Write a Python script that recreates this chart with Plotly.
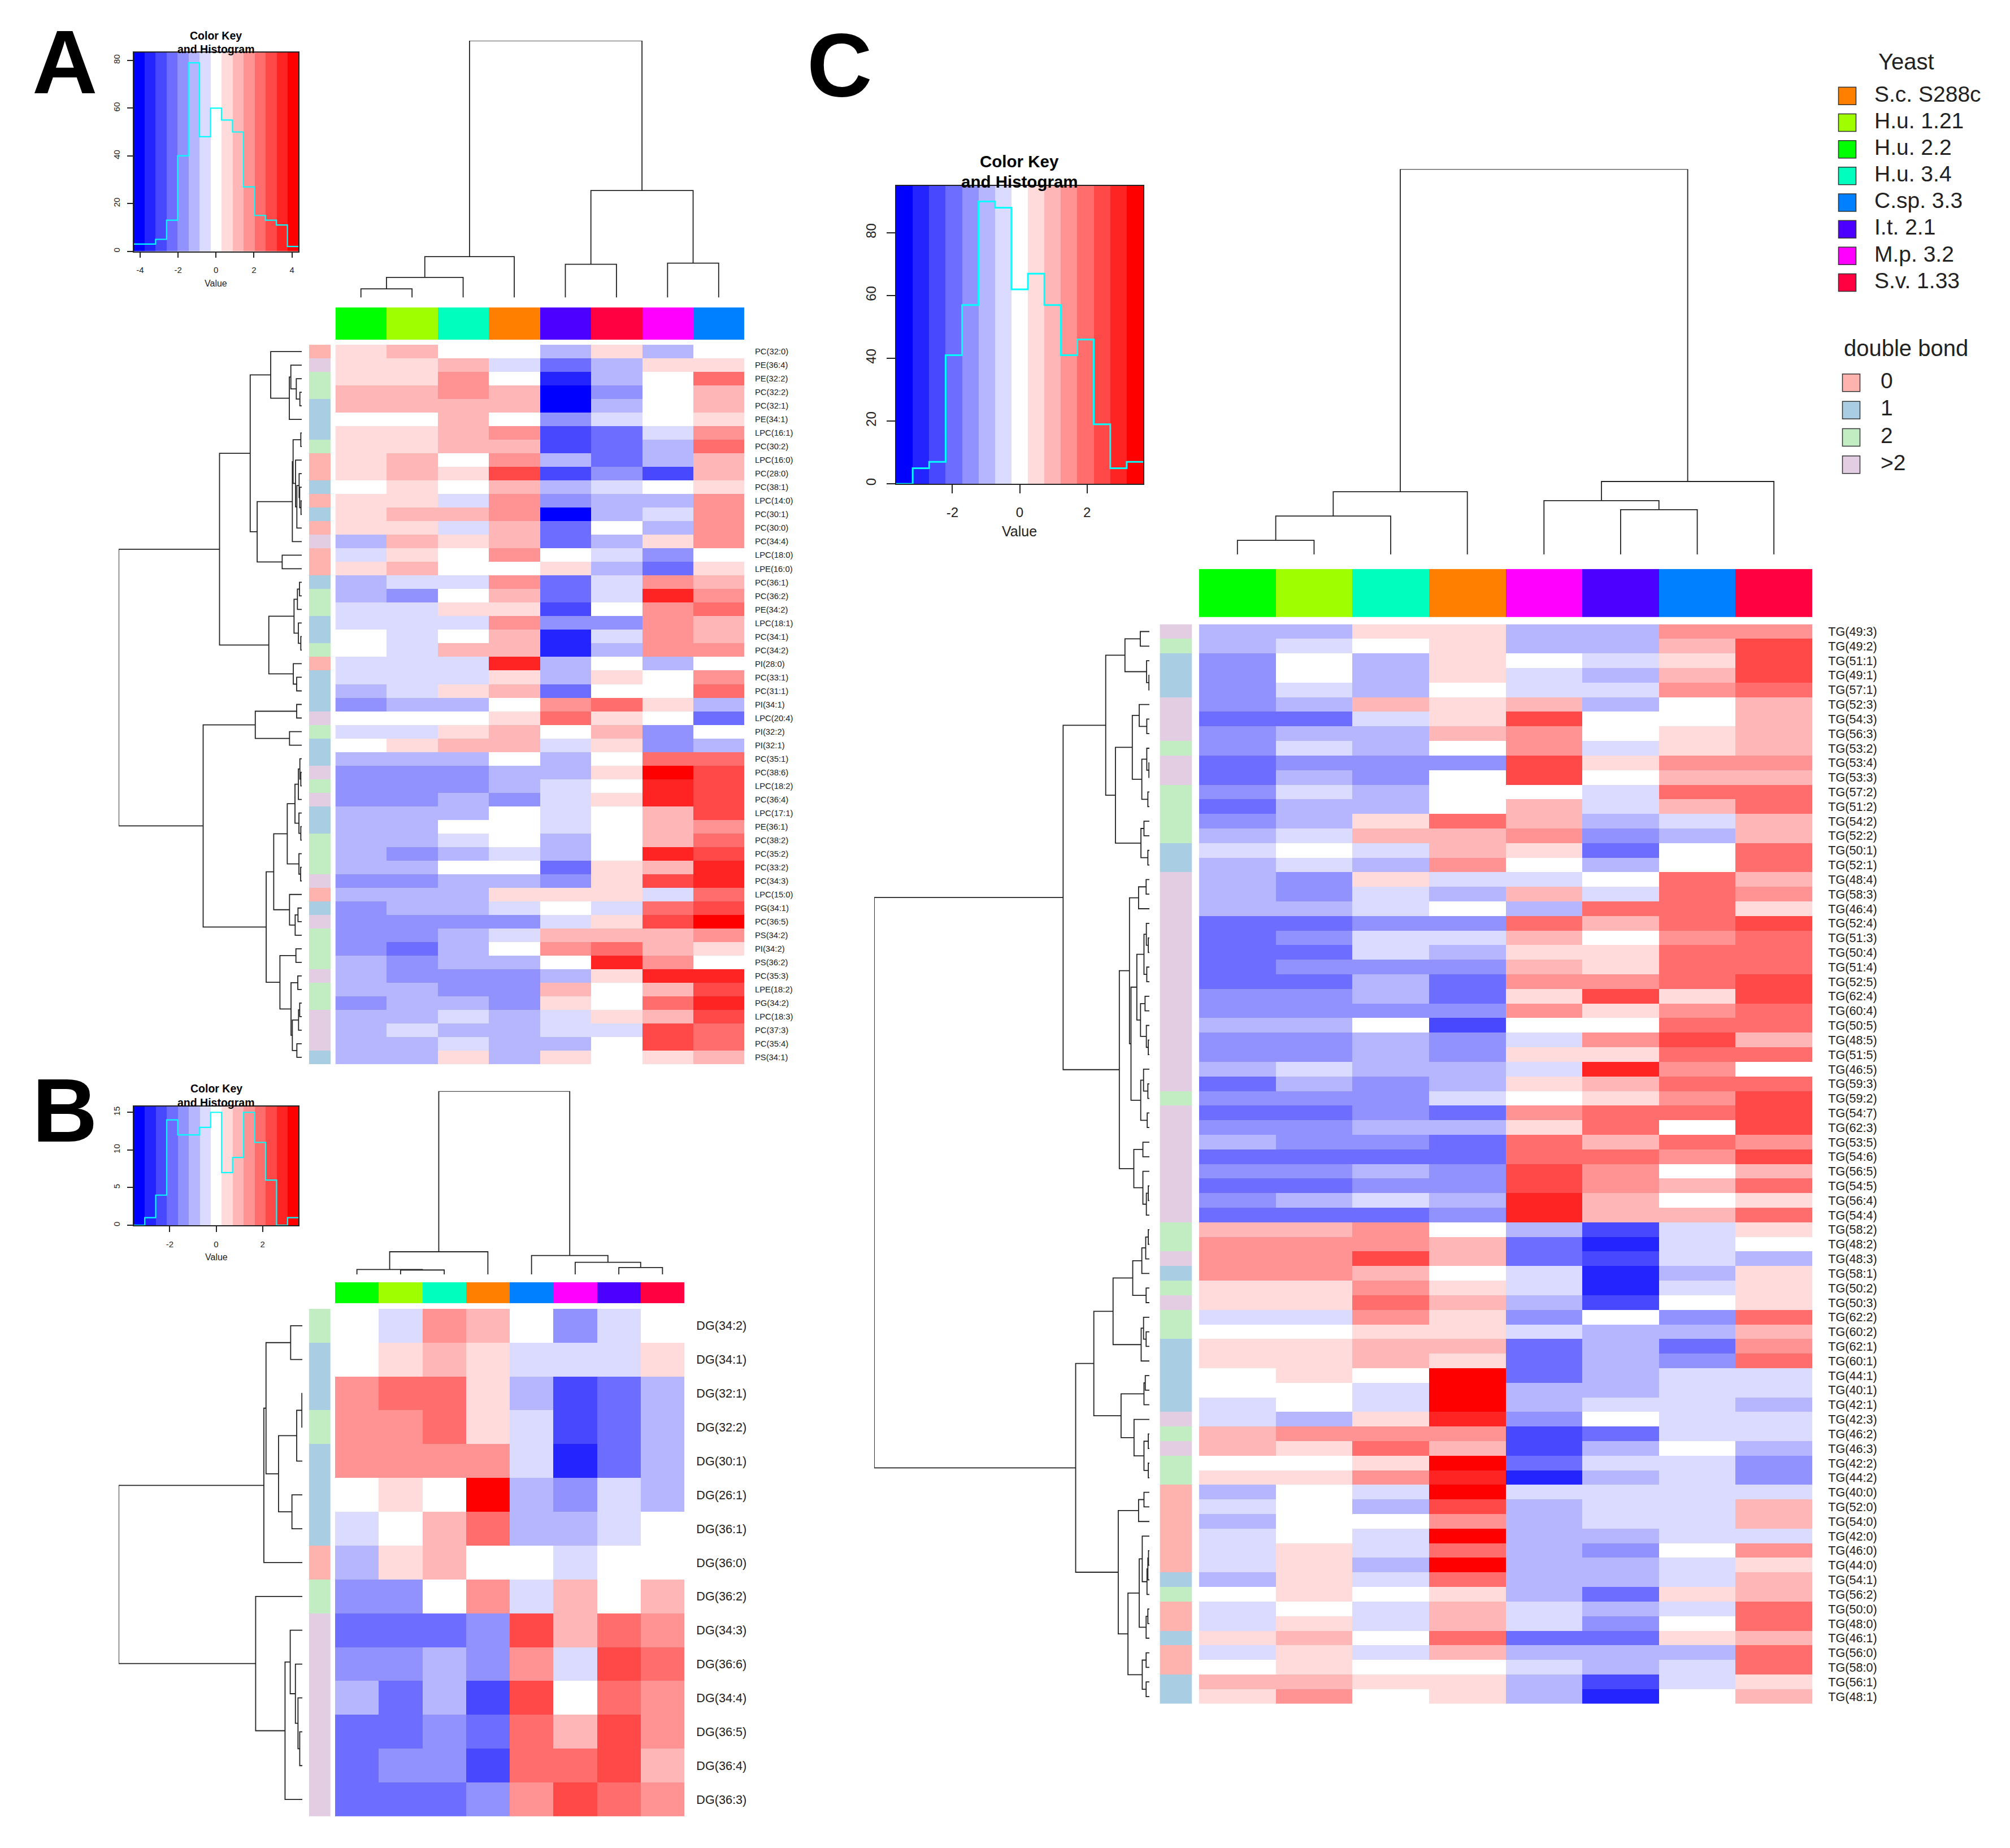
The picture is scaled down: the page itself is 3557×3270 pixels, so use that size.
import plotly.graph_objects as go

W, H = 3557, 3270
FONT = "Liberation Sans"
INK = "#222222"

LEVEL_COLORS = ["#0000FF", "#2424FF", "#4848FF", "#6D6DFF", "#9292FF", "#B6B6FF", "#DBDBFF", "#FFFFFF",
                "#FFDBDB", "#FFB6B6", "#FF9292", "#FF6D6D", "#FF4848", "#FF2424", "#FF0000"]

YEAST = ["S.c. S288c", "H.u. 1.21", "H.u. 2.2", "H.u. 3.4", "C.sp. 3.3", "I.t. 2.1", "M.p. 3.2", "S.v. 1.33"]
YEAST_COLORS = ["#FF8000", "#9FFF00", "#00FF00", "#00FFBF", "#0080FF", "#4C00FF", "#FF00FF", "#FF0040"]
BOND_NAMES = ["0", "1", "2", ">2"]
BOND_COLORS = ["#FEB3AE", "#A9CEE4", "#C2EDC3", "#E3CDE3"]

A_cols = ["H.u. 2.2", "H.u. 1.21", "H.u. 3.4", "S.c. S288c", "I.t. 2.1", "S.v. 1.33", "M.p. 3.2", "C.sp. 3.3"]
B_cols = ["H.u. 2.2", "H.u. 1.21", "H.u. 3.4", "S.c. S288c", "C.sp. 3.3", "M.p. 3.2", "I.t. 2.1", "S.v. 1.33"]
C_cols = ["H.u. 2.2", "H.u. 1.21", "H.u. 3.4", "S.c. S288c", "M.p. 3.2", "I.t. 2.1", "C.sp. 3.3", "S.v. 1.33"]

A_labels = ["PC(32:0)", "PE(36:4)", "PE(32:2)", "PC(32:2)", "PC(32:1)", "PE(34:1)", "LPC(16:1)", "PC(30:2)",
            "LPC(16:0)", "PC(28:0)", "PC(38:1)", "LPC(14:0)", "PC(30:1)", "PC(30:0)", "PC(34:4)", "LPC(18:0)",
            "LPE(16:0)", "PC(36:1)", "PC(36:2)", "PE(34:2)", "LPC(18:1)", "PC(34:1)", "PC(34:2)", "PI(28:0)",
            "PC(33:1)", "PC(31:1)", "PI(34:1)", "LPC(20:4)", "PI(32:2)", "PI(32:1)", "PC(35:1)", "PC(38:6)",
            "LPC(18:2)", "PC(36:4)", "LPC(17:1)", "PE(36:1)", "PC(38:2)", "PC(35:2)", "PC(33:2)", "PC(34:3)",
            "LPC(15:0)", "PG(34:1)", "PC(36:5)", "PS(34:2)", "PI(34:2)", "PS(36:2)", "PC(35:3)", "LPE(18:2)",
            "PG(34:2)", "LPC(18:3)", "PC(37:3)", "PC(35:4)", "PS(34:1)"]
A_values = [
    [1, 2, 0, 0, -2, 1, -2, 0], [1, 1, 2, -1, -4, -2, 1, 1], [1, 1, 3, 0, -6, -2, 0, 4], [2, 2, 3, 2, -7, -3, 0, 2],
    [2, 2, 2, 2, -7, -2, 0, 2], [0, 0, 2, 0, -3, -1, 0, 1], [1, 1, 2, 3, -5, -4, -1, 3], [1, 1, 2, 2, -5, -4, -2, 4],
    [1, 2, 0, 3, -2, -4, -2, 2], [1, 2, 1, 5, -5, -3, -5, 2], [0, 1, 0, 2, -2, -1, 0, 1], [1, 1, -1, 3, -3, -2, -2, 3],
    [1, 2, 2, 3, -7, -2, -1, 3], [1, 1, -1, 2, -4, 0, -2, 3], [-2, 2, 1, 2, -4, -2, 1, 3], [-1, 1, 0, 3, 0, -1, -3, 0],
    [1, 2, 0, 0, 1, -2, -4, 1], [-2, -1, -1, 3, -4, -1, 3, 2], [-2, -3, 0, 2, -4, -1, 6, 3], [-1, -1, 1, 1, -5, 0, 3, 4],
    [-1, -1, -1, 3, -3, -3, 3, 2], [0, -1, 0, 2, -6, -1, 3, 2], [0, -1, 2, 2, -6, -2, 3, 3], [-1, -1, -1, 6, -2, 0, -2, 0],
    [-1, -1, -1, 1, -2, 1, 0, 3], [-2, -1, 1, 2, -4, 0, 0, 4], [-3, -2, -2, 0, 3, 4, 1, -2], [0, 0, 0, 1, 4, 1, 0, -4],
    [-1, -1, 1, 2, 0, 2, -3, 0], [0, 1, 2, 2, -1, 1, -3, -2], [-2, -2, -2, 0, -2, 0, 4, 4], [-3, -3, -3, -2, -2, 1, 7, 5],
    [-3, -3, -3, -2, -1, 0, 6, 5], [-3, -3, -2, -3, -1, 1, 6, 5], [-2, -2, -2, 0, -1, 0, 2, 5], [-2, -2, 0, 0, -1, 0, 2, 3],
    [-2, -2, -1, 0, -2, 0, 2, 4], [-2, -3, -2, -1, -2, 0, 6, 5], [-2, -2, 0, 0, -4, 1, 2, 6], [-3, -3, -2, -2, -3, 1, 5, 6],
    [-2, -2, -2, 1, 1, 1, -1, 4], [-3, -2, -2, -1, 0, -1, 4, 5], [-3, -3, -3, -3, -1, 1, 5, 7], [-3, -3, -2, -1, 2, 2, 2, 3],
    [-3, -4, -2, 0, 3, 4, 2, 1], [-2, -3, -2, -2, 0, 6, 3, 0], [-2, -3, -3, -3, -2, 1, 6, 6], [-2, -2, -3, -3, 2, 0, 2, 5],
    [-3, -2, -2, -3, 1, 0, 4, 6], [-2, -2, -1, -2, -1, 1, 2, 5], [-2, -1, -2, -2, -1, -1, 5, 4], [-2, -2, -1, -2, -2, 0, 5, 4],
    [-2, -2, 1, -2, 1, 0, 1, 2],
]

B_labels = ["DG(34:2)", "DG(34:1)", "DG(32:1)", "DG(32:2)", "DG(30:1)", "DG(26:1)", "DG(36:1)", "DG(36:0)",
            "DG(36:2)", "DG(34:3)", "DG(36:6)", "DG(34:4)", "DG(36:5)", "DG(36:4)", "DG(36:3)"]
B_values = [
    [0, -1, 3, 2, 0, -3, -1, 0], [0, 1, 2, 1, -1, -1, -1, 1], [3, 4, 4, 1, -2, -5, -4, -2], [3, 3, 4, 1, -1, -5, -4, -2],
    [3, 3, 3, 3, -1, -6, -4, -2], [0, 1, 0, 7, -2, -3, -1, -2], [-1, 0, 2, 4, -2, -2, -1, 0], [-2, 1, 2, 0, 0, -1, 0, 0],
    [-3, -3, 0, 3, -1, 2, 0, 2], [-4, -4, -4, -3, 5, 2, 4, 3], [-3, -3, -2, -3, 3, -1, 5, 4], [-2, -4, -2, -5, 5, 0, 4, 3],
    [-4, -4, -3, -4, 4, 2, 5, 3], [-4, -3, -3, -5, 4, 4, 5, 2], [-4, -4, -4, -3, 3, 5, 4, 3],
]

C_labels = ["TG(49:3)", "TG(49:2)", "TG(51:1)", "TG(49:1)", "TG(57:1)", "TG(52:3)", "TG(54:3)", "TG(56:3)", "TG(53:2)",
            "TG(53:4)", "TG(53:3)", "TG(57:2)", "TG(51:2)", "TG(54:2)", "TG(52:2)", "TG(50:1)", "TG(52:1)", "TG(48:4)",
            "TG(58:3)", "TG(46:4)", "TG(52:4)", "TG(51:3)", "TG(50:4)", "TG(51:4)", "TG(52:5)", "TG(62:4)", "TG(60:4)",
            "TG(50:5)", "TG(48:5)", "TG(51:5)", "TG(46:5)", "TG(59:3)", "TG(59:2)", "TG(54:7)", "TG(62:3)", "TG(53:5)",
            "TG(54:6)", "TG(56:5)", "TG(54:5)", "TG(56:4)", "TG(54:4)", "TG(58:2)", "TG(48:2)", "TG(48:3)", "TG(58:1)",
            "TG(50:2)", "TG(50:3)", "TG(62:2)", "TG(60:2)", "TG(62:1)", "TG(60:1)", "TG(44:1)", "TG(40:1)", "TG(42:1)",
            "TG(42:3)", "TG(46:2)", "TG(46:3)", "TG(42:2)", "TG(44:2)", "TG(40:0)", "TG(52:0)", "TG(54:0)", "TG(42:0)",
            "TG(46:0)", "TG(44:0)", "TG(54:1)", "TG(56:2)", "TG(50:0)", "TG(48:0)", "TG(46:1)", "TG(56:0)", "TG(58:0)",
            "TG(56:1)", "TG(48:1)"]
C_values = [
    [-2, -2, 1, 1, -2, -2, 3, 3], [-2, -1, 0, 1, -2, -2, 2, 5], [-3, 0, -2, 1, 0, -1, 1, 5], [-3, 0, -2, 1, -1, -2, 2, 5],
    [-3, -1, -2, 0, -1, -1, 3, 4], [-3, -2, 2, 1, 2, -2, 0, 2], [-4, -4, -1, 1, 5, 0, 0, 2], [-3, -2, -2, 2, 3, 0, 1, 2],
    [-3, -1, -2, 0, 3, -1, 1, 2], [-4, -3, -3, -3, 5, 1, 3, 3], [-4, -2, -3, 0, 5, 0, 2, 2], [-3, -1, -2, 0, 0, -1, 4, 4],
    [-4, -2, -2, 0, 2, -1, 2, 4], [-3, -2, 1, 4, 2, -2, -1, 2], [-2, -1, 2, 2, 3, -3, -2, 2], [-1, 0, -1, 2, 1, -4, 0, 4],
    [-2, -1, -2, 3, 0, -2, 0, 4], [-2, -3, 1, -1, -1, 0, 4, 2], [-2, -3, -1, -2, 2, -1, 4, 3], [-2, -2, -1, 0, -2, 4, 4, 1],
    [-4, -4, -3, -3, 4, 2, 4, 5], [-4, -3, -1, -1, 2, 0, 3, 4], [-4, -4, -1, -2, 1, 1, 4, 4], [-4, -3, -3, -3, 2, 1, 4, 4],
    [-4, -4, -2, -4, 3, 3, 4, 5], [-3, -3, -2, -4, 1, 5, 1, 5], [-3, -3, -3, -3, 3, 1, 3, 4], [-2, -2, 0, -5, 0, 0, 4, 4],
    [-3, -3, -2, -3, -1, 3, 5, 2], [-3, -3, -2, -3, 1, 1, 4, 4], [-2, -1, -2, -2, -1, 6, 3, 0], [-4, -2, -3, -2, 1, 2, 4, 4],
    [-3, -3, -3, -1, 0, 1, 3, 5], [-4, -4, -3, -4, 3, 4, 4, 5], [-3, -3, -2, -2, 1, 4, 0, 5], [-2, -3, -3, -4, 4, 2, 4, 3],
    [-4, -4, -4, -4, 4, 4, 3, 5], [-3, -3, -2, -3, 5, 3, 0, 2], [-4, -4, -3, -3, 5, 3, 2, 4], [-3, -2, -1, -2, 6, 2, 0, 1],
    [-4, -4, -4, -3, 6, 2, 2, 4], [2, 2, 3, 0, -2, -5, -1, 1], [3, 3, 3, 2, -4, -6, -1, 0], [3, 3, 5, 2, -4, -5, -1, -2],
    [3, 3, 2, 0, -1, -6, -2, 1], [1, 1, 3, 1, -1, -6, -1, 1], [1, 1, 4, 2, -2, -5, 0, 1], [-1, -1, 3, 1, -3, 0, -3, 4],
    [0, 0, 1, 1, -1, -2, -2, 2], [1, 1, 2, 2, -4, -2, -4, 3], [1, 1, 2, 1, -4, -2, -3, 4], [0, 1, 0, 7, -4, -2, -1, -1],
    [0, 0, -1, 7, -2, -2, -1, -1], [-1, 0, -1, 7, -2, -1, -1, -2], [-1, -2, 1, 6, -3, 0, -1, -1], [2, 3, 3, 3, -5, -4, -1, -1],
    [2, 1, 4, 2, -5, -2, 0, -2], [0, 0, 1, 7, -4, -1, -1, -3], [1, 1, 3, 6, -6, -2, -1, -3], [-2, 0, -1, 7, -1, -1, -1, -1],
    [-1, 0, -2, 5, -2, -1, -1, 2], [-2, 0, 0, 3, -2, -1, -1, 2], [-1, 0, -1, 7, -2, -2, -1, -1], [-1, 1, -1, 4, -2, -3, 0, 3],
    [-1, 1, -2, 7, -2, -2, -1, 1], [-2, 1, -1, 4, -2, -2, -1, 2], [0, 1, 0, 1, -2, -4, 1, 2], [-1, 0, -1, 2, -1, -2, -1, 4],
    [-1, 1, -1, 2, -1, -3, 0, 4], [1, 2, 0, 4, -4, -4, 1, 2], [-1, 1, -1, 2, -2, -2, -2, 4], [0, 1, 0, 0, -1, -2, -1, 4],
    [2, 2, 1, 1, -2, -5, -1, 1], [1, 3, 0, 1, -2, -6, 0, 2],
]

# Clustering trees: [height, left, right]; a bare integer is a leaf (row/column index).
A_col_tree = [455, [72.5, [35.7, [15.4, 0, 1], 2], 3], [189.6, [58.9, 4, 5], [61, 6, 7]]]
B_col_tree = [324.7, [40, [8.5, 0, [7.7, 1, 2]], 3], [33.3, 4, [21.4, 5, [12, 6, 7]]]]
C_col_tree = [301, [49, [30, [11, 0, 1], 2], 3], [57, [42, 4, [35, 5, 6]], 7]]

A_row_tree = [973,
    [437,
        [274,
            [165, 0, [66, [58, 1, [29, 2, [10, 3, 4]]], 5]],
            [237, [50, [46, [5, 6, 7], [33, 8, [26, [14, 9, [11, 10, [4, 11, 12]]], 13]]], 14], [104, 15, 16]]],
        [175,
            [41, [23, [12, 17, 18], 19], [18, 20, [5, 21, 22]]],
            [45, 23, [27, 24, 25]]]],
    [524,
        [247, [27, 26, 27], [65, 28, 29]],
        [189,
            [149,
                [77, [36, [18, [10, 30, [5, 31, 32]], 33], [15, 34, [5, 35, 36]]], [15, 37, [6, 38, 39]]],
                [65, 40, [35, [20, 41, 42], 43]]],
            [116, [31, 44, 45], [57, [21, 46, 47], [50, [17, [11, 48, 49], 50], [26, 51, 52]]]]]]]

B_row_tree = [425,
    [89, [84, [27, 0, 1], [55, [13, [1, 2, 3], 4], [24, 5, 6]]], 7],
    [108, 8, [40, [28, 9, [16, 10, [10, 11, [6, 12, 13]]]], 14]]]

C_row_tree = [1273,
    [399,
        [202,
            [113, [42, 0, 1], [13, 2, [2, 3, 4]]],
            [157,
                [79, [47, 5, [12, 6, 7]], [35, [12, 8, [2, 9, 10]], [7, 11, 12]]],
                [39, [25, 13, 14], [7, 15, 16]]]],
        [139,
            [92,
                [50, [15, 17, 18], 19],
                [85,
                    [58, [25, [14, 20, [5, 21, 22]], [12, 23, 24]], [41, [20, 25, 26], [14, 27, [5, 28, 29]]]],
                    [40, [27, 30, [7, 31, 32]], [10, 33, 34]]]],
            [72, [30, 35, 36], [30, 37, [14, [5, 38, 39], 40]]]]],
    [341,
        [257,
            [168,
                [77, [35, [17, [5, 41, 42], 43], 44], [15, 45, 46]],
                [38, [27, 47, [15, 48, 49]], 50]],
            [131,
                [25, [19, 51, 52], 53],
                [71, 54, [25, [5, 55, 56], [5, 57, 58]]]]],
        [144,
            [50, [25, 59, 60], 61],
            [99,
                [47, [33, 62, [11, [7, [4, 63, 64], 65], 66]], [15, [7, 67, 68], 69]],
                [33, [15, 70, 71], [15, 72, 73]]]]]]

# Colour-key histograms: counts in the 15 key bins, with the key's value limit and top of the count axis.
A_hist = [3, 3, 5, 13, 40, 79, 48, 60, 55, 50, 27, 15, 13, 11, 2]
B_hist = [0, 1, 4, 14, 12, 12, 13, 15, 7, 9, 15, 11, 6, 0, 1]
C_hist = [0, 5, 7, 41, 57, 90, 88, 62, 67, 57, 41, 46, 19, 5, 7]
A_key_limit, A_key_top = 4.34, 83.3
B_key_limit, B_key_top = 3.55, 15.77
C_key_limit, C_key_top = 3.67, 95


def discrete_scale(colors):
    n = len(colors)
    out = []
    for i, c in enumerate(colors):
        out += [[i / n, c], [(i + 1) / n, c]]
    return out


def bond_class(label):
    return min(int(label.split(":")[1].rstrip(")")), 3)


fig = go.Figure()
layout = {}
annotations = []
axis_count = 0


def new_axes(x0, x1, y0, y1, xopts=None, yopts=None):
    """Create an axis pair occupying the given pixel box of the page."""
    global axis_count
    axis_count += 1
    suffix = "" if axis_count == 1 else str(axis_count)
    base = dict(showgrid=False, zeroline=False, showticklabels=False, ticks="", showline=False)
    xa = dict(base, domain=[x0 / W, x1 / W], anchor="y" + suffix)
    ya = dict(base, domain=[1 - y1 / H, 1 - y0 / H], anchor="x" + suffix)
    xa.update(xopts or {})
    ya.update(yopts or {})
    layout["xaxis" + suffix] = xa
    layout["yaxis" + suffix] = ya
    return "x" + suffix, "y" + suffix


def note(text, x, y, size, color="black"):
    annotations.append(dict(text=text, x=x / W, y=1 - y / H, xref="paper", yref="paper", showarrow=False,
                            xanchor="center", yanchor="middle",
                            font=dict(family=FONT, size=size, color=color)))


def tree_lines(node, along, across):
    """Return (position, height) of a node and append its bracket to the line lists."""
    if isinstance(node, int):
        return node, 0
    h, left, right = node
    p1, h1 = tree_lines(left, along, across)
    p2, h2 = tree_lines(right, along, across)
    along += [p1, p1, p2, p2, None]
    across += [h1, h, h, h2, None]
    return (p1 + p2) / 2, h


def add_key(box, hist, limit, top, ticks, yticks, tick_size, ticklen, lw, title_size, title_y, value_y):
    x0, x1, y0, y1 = box
    n = len(hist)
    edges = [-limit + 2 * limit * i / n for i in range(n + 1)]
    font = dict(family=FONT, size=tick_size, color=INK)
    xa, ya = new_axes(x0, x1, y0, y1,
                      dict(range=[-limit, limit], ticks="outside", ticklen=ticklen, tickcolor=INK, tickwidth=1.5,
                           tickmode="array", tickvals=ticks, ticktext=[str(t) for t in ticks], showticklabels=True,
                           tickfont=font, showline=True, linecolor=INK, linewidth=1.5, mirror=True,
                           ticklabelstandoff=int(ticklen * 0.9)),
                      dict(range=[0, top], ticks="outside", ticklen=ticklen, tickcolor=INK, tickwidth=1.5,
                           tickmode="array", tickvals=yticks, ticktext=[str(t) for t in yticks], showticklabels=True,
                           tickfont=font, tickangle=-90, showline=True, linecolor=INK, linewidth=1.5, mirror=True,
                           ticklabelstandoff=int(ticklen * 0.7)))
    fig.add_trace(go.Heatmap(x=edges, y=[0, top], z=[list(range(-7, 8))], zmin=-7.5, zmax=7.5,
                             colorscale=discrete_scale(LEVEL_COLORS), showscale=False, hoverinfo="skip",
                             xaxis=xa, yaxis=ya))
    fig.add_trace(go.Scatter(x=edges, y=hist + [hist[-1]], mode="lines", line=dict(color="#00FFFF", width=lw, shape="hv"),
                             hoverinfo="skip", xaxis=xa, yaxis=ya))
    mid = (x0 + x1) / 2
    note("<b>Color Key</b>", mid, title_y[0], title_size)
    note("<b>and Histogram</b>", mid, title_y[1], title_size)
    note("Value", mid, value_y, tick_size + 1, INK)


def add_panel(labels, values, cols, col_tree, row_tree, heat, side, colbar, col_dendro, row_dendro, label_size, label_gap):
    hx0, hx1, hy0, hy1 = heat
    n, m = len(labels), len(cols)
    xr = [-0.5, m - 0.5]
    yr = [n - 0.5, -0.5]
    # main matrix, with the lipid names as tick labels on the right
    xa, ya = new_axes(hx0, hx1, hy0, hy1, dict(range=xr),
                      dict(range=yr, side="right", tickmode="array", tickvals=list(range(n)), ticktext=labels,
                           showticklabels=True, ticks="outside", ticklen=label_gap, tickcolor="rgba(0,0,0,0)",
                           tickfont=dict(family=FONT, size=label_size, color=INK)))
    fig.add_trace(go.Heatmap(z=values, zmin=-7.5, zmax=7.5, colorscale=discrete_scale(LEVEL_COLORS), showscale=False,
                             hoverinfo="skip", xaxis=xa, yaxis=ya))
    # column colour bar
    xa, ya = new_axes(hx0, hx1, colbar[0], colbar[1], dict(range=xr), dict(range=[-0.5, 0.5]))
    fig.add_trace(go.Heatmap(z=[[YEAST.index(c) for c in cols]], zmin=-0.5, zmax=len(YEAST) - 0.5,
                             colorscale=discrete_scale(YEAST_COLORS), showscale=False, hoverinfo="skip",
                             xaxis=xa, yaxis=ya))
    # row side colours (double-bond class read from the lipid name)
    xa, ya = new_axes(side[0], side[1], hy0, hy1, dict(range=[-0.5, 0.5]), dict(range=yr))
    fig.add_trace(go.Heatmap(z=[[bond_class(l)] for l in labels], zmin=-0.5, zmax=3.5,
                             colorscale=discrete_scale(BOND_COLORS), showscale=False, hoverinfo="skip",
                             xaxis=xa, yaxis=ya))
    # column dendrogram
    xa, ya = new_axes(hx0, hx1, col_dendro[0], col_dendro[1], dict(range=xr), dict(range=[0, col_tree[0]]))
    along, across = [], []
    tree_lines(col_tree, along, across)
    fig.add_trace(go.Scatter(x=along, y=across, mode="lines", line=dict(color=INK, width=1.8), hoverinfo="skip",
                             cliponaxis=False, xaxis=xa, yaxis=ya))
    # row dendrogram
    xa, ya = new_axes(row_dendro[0], row_dendro[1], hy0, hy1, dict(range=[row_tree[0], 0]), dict(range=yr))
    along, across = [], []
    tree_lines(row_tree, along, across)
    fig.add_trace(go.Scatter(x=across, y=along, mode="lines", line=dict(color=INK, width=1.8), hoverinfo="skip",
                             cliponaxis=False, xaxis=xa, yaxis=ya))


add_panel(A_labels, A_values, A_cols, A_col_tree, A_row_tree,
          heat=(593.5, 1317, 610.6, 1884.7), side=(547, 585), colbar=(544.6, 602), col_dendro=(72, 527),
          row_dendro=(210, 534), label_size=14.8, label_gap=15)
add_panel(B_labels, B_values, B_cols, B_col_tree, B_row_tree,
          heat=(593, 1211, 2318, 3217), side=(546.7, 585), colbar=(2271, 2308.5), col_dendro=(1932.5, 2257),
          row_dendro=(210, 535), label_size=21.6, label_gap=16)
add_panel(C_labels, C_values, C_cols, C_col_tree, C_row_tree,
          heat=(2122, 3207, 1105.6, 3017.7), side=(2052.4, 2109.6), colbar=(1007.7, 1093), col_dendro=(299.5, 982),
          row_dendro=(1547, 2034), label_size=21.6, label_gap=23)

add_key((236.5, 528, 93, 445), A_hist, A_key_limit, A_key_top, [-4, -2, 0, 2, 4], [0, 20, 40, 60, 80],
        15, 10, 2.2, 19.5, (63, 87.5), 502)
add_key((236.7, 528.3, 1959.8, 2170), B_hist, B_key_limit, B_key_top, [-2, 0, 2], [0, 5, 10, 15],
        15, 10, 2.2, 19.5, (1928, 1953), 2227)
add_key((1586, 2023, 329, 857), C_hist, C_key_limit, C_key_top, [-2, 0, 2], [0, 20, 40, 60, 80],
        24, 15, 3, 29.5, (286, 322), 941)

# yeast and double-bond keys
for names, colors, box, span in [(YEAST, YEAST_COLORS, (3221, 3557, 146.4, 524), 6),
                                 (BOND_NAMES, BOND_COLORS, (3224, 3536, 653.8, 847.2), 5)]:
    k = len(names)
    xa, ya = new_axes(box[0], box[1], box[2], box[3], dict(range=[-1, span]), dict(range=[k - 0.5, -0.5]))
    fig.add_trace(go.Scatter(x=[0] * k, y=list(range(k)), mode="markers", hoverinfo="skip",
                             marker=dict(symbol="square", size=31, color=colors, line=dict(color="#333333", width=1.5)),
                             xaxis=xa, yaxis=ya))
    fig.add_trace(go.Scatter(x=[1] * k, y=list(range(k)), mode="text", text=names, textposition="middle right",
                             textfont=dict(family=FONT, size=39, color=INK), hoverinfo="skip", cliponaxis=False,
                             xaxis=xa, yaxis=ya))

note("Yeast", 3373, 109, 40, INK)
note("double bond", 3373, 617, 40, INK)
note("<b>A</b>", 115, 110, 160)
note("<b>B</b>", 115, 1966, 160)
note("<b>C</b>", 1486, 115, 160)

fig.update_layout(width=W, height=H, margin=dict(l=0, r=0, t=0, b=0), autosize=False, showlegend=False,
                  paper_bgcolor="white", plot_bgcolor="white", hovermode=False, annotations=annotations,
                  font=dict(family=FONT), **layout)

fig.write_html("out.html", config=dict(displayModeBar=False),
               post_script="document.body.style.margin='0';document.body.style.overflow='hidden';")
